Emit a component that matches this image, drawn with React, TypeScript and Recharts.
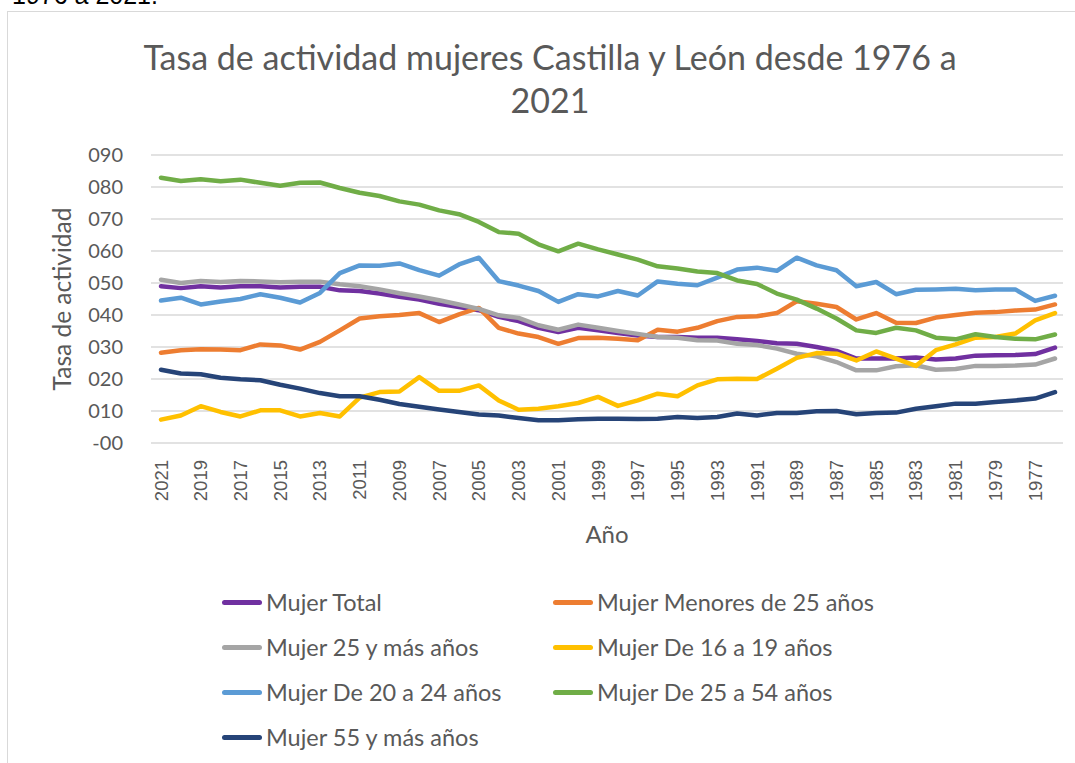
import React from 'react';
import { LineChart, Line, XAxis, YAxis, CartesianGrid, Legend } from 'recharts';

// años, de 2021 hacia atrás (como en la hoja original)
const years = [
  2021, 2020, 2019, 2018, 2017, 2016, 2015, 2014, 2013, 2012,
  2011, 2010, 2009, 2008, 2007, 2006, 2005, 2004, 2003, 2002,
  2001, 2000, 1999, 1998, 1997, 1996, 1995, 1994, 1993, 1992,
  1991, 1990, 1989, 1988, 1987, 1986, 1985, 1984, 1983, 1982,
  1981, 1980, 1979, 1978, 1977, 1976,
];

const mujerTotal = [
  49.0, 48.4, 49.0, 48.6, 49.0, 49.0, 48.6, 48.8, 48.8, 47.7,
  47.5, 46.7, 45.7, 44.8, 43.5, 42.5, 41.5, 39.4, 38.1, 36.0,
  34.7, 36.0, 35.2, 34.4, 33.6, 33.1, 33.1, 32.9, 32.9, 32.4,
  31.9, 31.2, 31.0, 30.0, 28.8, 26.4, 26.4, 26.4, 26.7, 26.1,
  26.4, 27.3, 27.4, 27.5, 27.8, 29.8,
];
const menores25 = [
  28.2, 29.0, 29.3, 29.2, 29.0, 30.8, 30.5, 29.2, 31.6, 35.2,
  38.9, 39.6, 40.0, 40.6, 37.8, 40.2, 42.2, 36.0, 34.2, 33.1,
  31.0, 32.8, 32.9, 32.6, 32.1, 35.4, 34.8, 36.0, 38.1, 39.4,
  39.6, 40.6, 44.3, 43.5, 42.5, 38.6, 40.6, 37.6, 37.5, 39.2,
  40.0, 40.7, 40.9, 41.4, 41.7, 43.3,
];
const mas25 = [
  51.0, 50.0, 50.6, 50.3, 50.6, 50.5, 50.2, 50.4, 50.4, 49.6,
  49.0, 48.0, 46.8, 45.8, 44.6, 43.3, 41.9, 39.9, 39.1, 36.8,
  35.4, 37.0, 36.0, 35.0, 34.1, 33.1, 32.9, 32.1, 32.0, 31.0,
  30.6, 29.5, 27.9, 27.1, 25.3, 22.7, 22.7, 24.0, 24.3, 22.9,
  23.1, 24.1, 24.1, 24.2, 24.5, 26.4,
];
const de16a19 = [
  7.3, 8.6, 11.5, 9.7, 8.3, 10.2, 10.2, 8.3, 9.4, 8.3,
  14.2, 15.9, 16.1, 20.6, 16.3, 16.3, 18.0, 13.3, 10.4, 10.7,
  11.5, 12.5, 14.4, 11.6, 13.3, 15.4, 14.6, 18.0, 19.9, 20.1,
  20.0, 23.2, 26.6, 28.1, 27.9, 25.8, 28.6, 26.4, 24.1, 29.0,
  30.8, 32.9, 33.1, 34.2, 38.3, 40.6,
];
const de20a24 = [
  44.5, 45.4, 43.3, 44.2, 45.0, 46.5, 45.4, 43.9, 46.9, 53.1,
  55.5, 55.4, 56.1, 54.0, 52.3, 55.8, 57.9, 50.6, 49.2, 47.5,
  44.1, 46.5, 45.8, 47.5, 46.1, 50.5, 49.8, 49.3, 51.7, 54.2,
  54.8, 53.8, 57.9, 55.5, 54.0, 49.0, 50.3, 46.5, 47.9, 48.0,
  48.2, 47.7, 48.0, 48.0, 44.4, 46.0,
];
const de25a54 = [
  82.9, 81.9, 82.4, 81.8, 82.3, 81.3, 80.4, 81.3, 81.4, 79.7,
  78.2, 77.2, 75.5, 74.5, 72.7, 71.5, 69.1, 65.9, 65.4, 62.1,
  59.9, 62.3, 60.5, 58.9, 57.3, 55.2, 54.5, 53.6, 53.1, 50.8,
  49.7, 46.7, 44.8, 42.0, 38.9, 35.2, 34.4, 36.0, 35.2, 32.9,
  32.4, 34.0, 33.1, 32.6, 32.4, 33.9,
];
const mas55 = [
  22.9, 21.7, 21.5, 20.4, 19.9, 19.6, 18.2, 17.0, 15.6, 14.6,
  14.6, 13.5, 12.2, 11.3, 10.5, 9.7, 8.9, 8.6, 7.8, 7.1,
  7.1, 7.4, 7.6, 7.6, 7.5, 7.6, 8.1, 7.8, 8.1, 9.2,
  8.6, 9.4, 9.4, 9.9, 10.0, 9.0, 9.4, 9.5, 10.7, 11.5,
  12.3, 12.3, 12.8, 13.3, 13.9, 15.9,
];

const yTicks = [0, 10, 20, 30, 40, 50, 60, 70, 80, 90];
const yTickLabels = ['-00', '010', '020', '030', '040', '050', '060', '070', '080', '090'];

const series = [
  { key: 'total', name: 'Mujer Total', values: mujerTotal, color: '#7030A0' },
  { key: 'men25', name: 'Mujer Menores de 25 años', values: menores25, color: '#ED7D31' },
  { key: 'mas25', name: 'Mujer 25 y más años', values: mas25, color: '#A5A5A5' },
  { key: 'd1619', name: 'Mujer De 16 a 19 años', values: de16a19, color: '#FFC000' },
  { key: 'd2024', name: 'Mujer De 20 a 24 años', values: de20a24, color: '#5B9BD5' },
  { key: 'd2554', name: 'Mujer De 25 a 54 años', values: de25a54, color: '#70AD47' },
  { key: 'mas55', name: 'Mujer 55 y más años', values: mas55, color: '#264478' },
];

const rows = years.map((year, i) => {
  const row: Record<string, number | string> = { year: String(year) };
  series.forEach(s => { row[s.key] = s.values[i]; });
  return row;
});

const TEXT = '#595959';
const FONT = 'Lato, "Open Sans", sans-serif';

// etiquetas del eje X giradas, como en Excel
const YearTick = (props: any) => {
  const { x, y, payload } = props;
  const ty = y + 17;
  return (
    <text
      x={x}
      y={ty}
      transform={`rotate(-90, ${x}, ${ty})`}
      textAnchor="end"
      dominantBaseline="central"
      fill={TEXT}
      fontSize={18.5}
      fontFamily='"Liberation Sans", Arial, sans-serif'
    >
      {payload.value}
    </text>
  );
};

// leyenda en dos columnas, en el orden de las series (no alfabético)
const LegendBox = () => (
  <div style={{ display: 'grid', gridTemplateColumns: '331px 360px', rowGap: 17, fontFamily: FONT, fontSize: 23.5, color: TEXT }}>
    {series.map(s => (
      <div key={s.key} style={{ display: 'flex', alignItems: 'center', height: 28, whiteSpace: 'nowrap' }}>
        <span style={{ display: 'inline-block', width: 40, height: 5, borderRadius: 3, background: s.color, marginRight: 4 }} />
        <span>{s.name}</span>
      </div>
    ))}
  </div>
);

export default function App() {
  return (
    <div style={{ position: 'absolute', left: 0, top: 0, width: 1075, height: 763, overflow: 'hidden', background: '#fff' }}>
      <div style={{ position: 'absolute', left: 12, top: -17, fontFamily: '"Liberation Sans", Arial, sans-serif', fontSize: 25, lineHeight: '25px', color: '#000', whiteSpace: 'nowrap' }}>
        1976 a 2021.
      </div>
      <div style={{ position: 'absolute', left: 7, top: 11, width: 1100, height: 800, border: '1.5px solid #D9D9D9', boxSizing: 'border-box' }} />
      <div style={{ position: 'absolute', left: 0, top: 35, width: 1100, textAlign: 'center', fontFamily: FONT, fontSize: 34, lineHeight: '43px', color: TEXT }}>
        <div style={{ width: 1000, marginLeft: 50, whiteSpace: 'nowrap' }}>
          Tasa de actividad mujeres Castilla y León desde 1976 a
          <br />
          2021
        </div>
      </div>
      <div style={{ position: 'absolute', left: 0, top: 0 }}>
        <LineChart
          width={1075}
          height={763}
          data={rows}
          margin={{ top: 155, right: 12, left: 40, bottom: 220 }}
        >
          <CartesianGrid vertical={false} stroke="#D9D9D9" strokeWidth={1.5} />
          <XAxis
            dataKey="year"
            interval={1}
            axisLine={false}
            tickLine={false}
            tickSize={0}
            tickMargin={0}
            height={100}
            padding={{ left: 10, right: 8 }}
            tick={<YearTick />}
            label={{ value: 'Año', position: 'insideBottom', offset: 0, fill: TEXT, fontSize: 24, fontFamily: FONT }}
          />
          <YAxis
            width={111}
            domain={[0, 90]}
            ticks={yTicks}
            interval={0}
            axisLine={false}
            tickLine={false}
            tickSize={0}
            tickMargin={28}
            tickFormatter={(v: number) => yTickLabels[yTicks.indexOf(v)]}
            tick={{ fill: TEXT, fontSize: 20, fontFamily: FONT }}
            label={{ value: 'Tasa de actividad', angle: -90, position: 'insideLeft', offset: 22, fill: TEXT, fontSize: 24.5, fontFamily: FONT, style: { textAnchor: 'middle' } }}
          />
          <Legend
            layout="horizontal"
            verticalAlign="middle"
            align="center"
            content={<LegendBox />}
            wrapperStyle={{ left: 222, top: 588, width: 720 }}
          />
          {series.map(s => (
            <Line
              key={s.key}
              type="linear"
              dataKey={s.key}
              name={s.name}
              stroke={s.color}
              strokeWidth={4.5}
              strokeLinejoin="round"
              strokeLinecap="round"
              dot={false}
              activeDot={false}
              isAnimationActive={false}
            />
          ))}
        </LineChart>
      </div>
    </div>
  );
}
